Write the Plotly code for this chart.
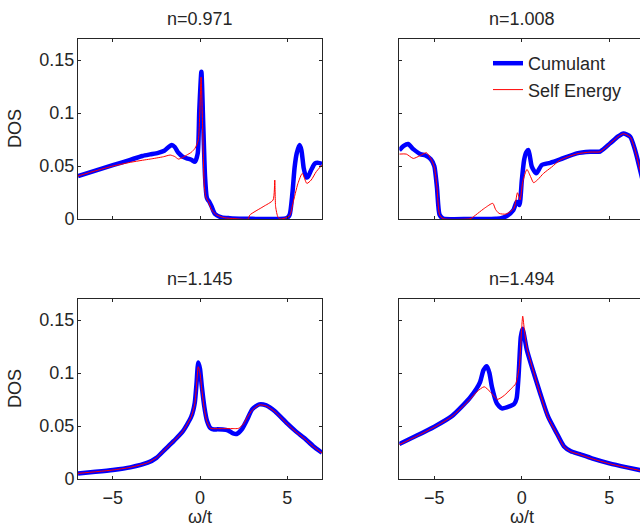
import plotly.graph_objects as go

# ---------------- data ----------------
titles = ["n=0.971", "n=1.008", "n=1.145", "n=1.494"]
series_names = ["Cumulant", "Self Energy"]
yticks = [0, 0.05, 0.1, 0.15]
ytick_text = ["0", "0.05", "0.1", "0.15"]
xticks = [-5, 0, 5]
xtick_text = ["\u22125", "0", "5"]

# panel 1 : n=0.971
w1_cum = [-7, -6, -5, -4, -3.3, -2.86, -2.4, -2.05, -1.8, -1.62, -1.45, -1.24, -1.0, -0.76, -0.5, -0.29, -0.13,
          -0.04, 0.08, 0.19, 0.29, 0.38, 0.45, 0.53, 0.67, 0.86, 1.24, 1.71, 2.5, 3.5, 4.5, 4.95, 5.14, 5.3,
          5.43, 5.55, 5.71, 5.82, 5.95, 6.1, 6.2, 6.4, 6.6, 6.8, 7]
d1_cum = [0.0406, 0.0457, 0.0508, 0.0559, 0.0595, 0.061, 0.0625, 0.0645, 0.068, 0.0698, 0.068, 0.0625, 0.059,
          0.0573, 0.056, 0.0541, 0.062, 0.103, 0.139, 0.087, 0.040, 0.0211, 0.018, 0.0164, 0.0116, 0.0047,
          0.0015, 0.0008, 0.0003, 0.0, 0.0, 0.0006, 0.0038, 0.024, 0.049, 0.062, 0.0698, 0.065, 0.048, 0.0392,
          0.040, 0.047, 0.0525, 0.053, 0.052]
w1_se = [-7, -6, -5, -4, -3.3, -2.86, -2.1, -1.71, -1.45, -1.24, -1.0, -0.76, -0.5, -0.29, -0.1, 0.06, 0.15,
         0.25, 0.35, 0.48, 0.67, 0.95, 1.4, 2.0, 2.76, 2.86, 3.62, 4.19, 4.29, 4.34, 4.48, 4.67, 5.14, 5.33,
         5.62, 5.87, 6.13, 6.38, 6.67, 7]
d1_se = [0.0406, 0.0455, 0.050, 0.0535, 0.0555, 0.0566, 0.0588, 0.0604, 0.059, 0.0566, 0.058, 0.0604, 0.063,
         0.0667, 0.0745, 0.134, 0.087, 0.0305, 0.020, 0.0164, 0.0085, 0.0038, 0.0012, 0.0003, 0.0, 0.0038,
         0.0116, 0.0179, 0.0368, 0.0116, 0.0016, 0.0, 0.003, 0.0148, 0.0336, 0.0431, 0.0336, 0.0368, 0.0447,
         0.0509]

# panel 2 : n=1.008
w2_cum = [-7, -6.75, -6.5, -6.2, -5.8, -5.5, -5.2, -5.0, -4.85, -4.7, -4.5, -3.0, -2.0, -1.5, -1.24, -0.86,
          -0.48, -0.29, -0.14, 0.0, 0.13, 0.25, 0.38, 0.57, 0.82, 1.14, 1.62, 2.19, 3.14, 3.9, 4.47, 5.04,
          5.5, 5.8, 6.19, 6.47, 6.71, 7]
d2_cum = [0.065, 0.069, 0.0708, 0.066, 0.0613, 0.060, 0.0565, 0.050, 0.030, 0.004, 0.0005, 0.0, 0.0, 0.0003,
          0.0006, 0.0028, 0.0085, 0.0164, 0.0132, 0.0368, 0.0557, 0.063, 0.0651, 0.0494, 0.0431, 0.051,
          0.0531, 0.0563, 0.062, 0.0635, 0.0637, 0.0714, 0.078, 0.0808, 0.0777, 0.065, 0.0494, 0.030]
w2_se = [-7, -6.6, -6.2, -5.8, -5.45, -5.2, -5.0, -4.85, -4.7, -4.5, -3.05, -2.9, -2.14, -1.66, -1.5, -1.3,
         -0.9, -0.45, -0.25, -0.1, 0.05, 0.29, 0.5, 0.67, 0.9, 1.24, 1.7, 2.19, 3.14, 3.9, 4.47, 5.04, 5.5,
         5.8, 6.19, 6.47, 6.71, 7]
d2_se = [0.0613, 0.0613, 0.0572, 0.060, 0.0626, 0.057, 0.049, 0.030, 0.004, 0.0003, 0.0, 0.0006, 0.0101,
         0.0148, 0.009, 0.0053, 0.0047, 0.0101, 0.0248, 0.018, 0.035, 0.0468, 0.040, 0.0343, 0.037, 0.0431,
         0.049, 0.0557, 0.0615, 0.0632, 0.0635, 0.0712, 0.0778, 0.0806, 0.0775, 0.0648, 0.0492, 0.030]

# panel 3 : n=1.145
w3_cum = [-7, -6, -5, -4, -3, -2.5, -2, -1.5, -1, -0.5, -0.3, -0.2, -0.1, 0.0, 0.1, 0.25, 0.4, 0.6, 0.8,
          1.0, 1.3, 1.6, 1.9, 2.1, 2.4, 2.7, 3.0, 3.4, 3.8, 4.3, 5.0, 5.5, 6.0, 6.5, 7]
d3_cum = [0.0053, 0.0068, 0.0085, 0.011, 0.0154, 0.020, 0.028, 0.036, 0.0447, 0.059, 0.072, 0.090, 0.110,
          0.104, 0.088, 0.068, 0.055, 0.048, 0.0468, 0.0469, 0.0468, 0.046, 0.043, 0.0425, 0.047, 0.056,
          0.066, 0.0705, 0.0695, 0.064, 0.0525, 0.045, 0.0384, 0.031, 0.0248]
w3_se = [-7, -6, -5, -4, -3, -2.5, -2, -1.5, -1, -0.5, -0.3, -0.2, -0.1, 0.0, 0.1, 0.25, 0.4, 0.6, 0.8,
         1.0, 1.3, 1.6, 1.9, 2.2, 2.5, 2.7, 3.0, 3.4, 3.8, 4.3, 5.0, 5.5, 6.0, 6.5, 7]
d3_se = [0.0053, 0.0068, 0.0085, 0.011, 0.0154, 0.020, 0.028, 0.036, 0.0447, 0.059, 0.071, 0.088, 0.106,
         0.100, 0.085, 0.066, 0.054, 0.048, 0.0475, 0.0476, 0.0476, 0.0476, 0.0476, 0.0478, 0.052, 0.058,
         0.065, 0.0700, 0.0690, 0.0635, 0.052, 0.0445, 0.038, 0.0307, 0.0245]

# panel 4 : n=1.494
w4_cum = [-7, -6, -5, -4, -3, -2.6, -2.38, -2.19, -2.0, -1.85, -1.71, -1.43, -1.14, -0.67, -0.44, -0.3,
          -0.19, -0.06, 0.04, 0.29, 0.57, 1.05, 1.5, 2.0, 2.4, 2.8, 3.3, 4.0, 5.0, 6.0, 7]
d4_cum = [0.033, 0.041, 0.0494, 0.0594, 0.0761, 0.085, 0.0918, 0.1028, 0.1066, 0.100, 0.0871, 0.0714,
          0.0667, 0.0689, 0.0708, 0.076, 0.0965, 0.134, 0.142, 0.1217, 0.106, 0.0808, 0.0588, 0.043, 0.031,
          0.0262, 0.0235, 0.0195, 0.0148, 0.011, 0.0075]
w4_se = [-7, -6, -5, -4, -3, -2.57, -2.15, -1.81, -1.39, -1.0, -0.6, -0.35, -0.15, 0.0, 0.05, 0.15, 0.3,
         0.57, 1.05, 1.5, 2.0, 2.4, 2.8, 3.3, 4.0, 5.0, 6.0, 7]
d4_se = [0.0325, 0.0405, 0.049, 0.059, 0.0745, 0.0824, 0.0871, 0.0824, 0.0752, 0.079, 0.0855, 0.090, 0.106,
         0.145, 0.1538, 0.140, 0.123, 0.107, 0.080, 0.058, 0.0425, 0.0306, 0.0258, 0.0232, 0.0192, 0.0145,
         0.0107, 0.0072]

panels = [
    (w1_cum, d1_cum, w1_se, d1_se),
    (w2_cum, d2_cum, w2_se, d2_se),
    (w3_cum, d3_cum, w3_se, d3_se),
    (w4_cum, d4_cum, w4_se, d4_se),
]

# ---------------- layout geometry (pixels) ----------------
W, H = 640, 528
FONT = "Liberation Sans, Arial, Helvetica, sans-serif"
TXT = "#262626"
FS = 18

col_px = [(78, 322), (399.3, 640)]
row_px = [(39, 219), (299, 479)]
xranges = [[-7, 7], [-7, 6.75]]

fig = go.Figure()

for i, (wc, dc, ws, ds) in enumerate(panels):
    k = i + 1
    xa = "x" if k == 1 else f"x{k}"
    ya = "y" if k == 1 else f"y{k}"
    fig.add_trace(go.Scatter(x=wc, y=dc, mode="lines", name=series_names[0],
                             line=dict(color="#0000ff", width=4.5, shape="spline", smoothing=0.6),
                             showlegend=(k == 1), legendrank=1, xaxis=xa, yaxis=ya))
    fig.add_trace(go.Scatter(x=ws, y=ds, mode="lines", name=series_names[1],
                             line=dict(color="#ff0000", width=1, shape="spline", smoothing=0.6),
                             showlegend=(k == 1), legendrank=2, xaxis=xa, yaxis=ya))

layout = dict(
    width=W, height=H,
    margin=dict(l=0, r=0, t=0, b=0),
    paper_bgcolor="white", plot_bgcolor="white",
    font=dict(family=FONT, size=FS, color=TXT),
    showlegend=True,
    legend=dict(x=488 / W, y=1 - 45 / H, xanchor="left", yanchor="top",
                bgcolor="rgba(0,0,0,0)", borderwidth=0,
                font=dict(family=FONT, size=FS, color=TXT)),
    annotations=[],
)

for i in range(4):
    k = i + 1
    r, c = divmod(i, 2)
    x0, x1 = col_px[c]
    y0, y1 = row_px[r]
    xkey = "xaxis" if k == 1 else f"xaxis{k}"
    ykey = "yaxis" if k == 1 else f"yaxis{k}"
    layout[xkey] = dict(
        domain=[x0 / W, x1 / W], range=xranges[c], anchor=("y" if k == 1 else f"y{k}"),
        tickvals=xticks, ticktext=xtick_text, showticklabels=(r == 1),
        ticks="inside", ticklen=3, tickwidth=1, tickcolor=TXT,
        showline=True, linecolor=TXT, linewidth=1, mirror="ticks",
        showgrid=False, zeroline=False, automargin=False, fixedrange=True,
        ticklabelstandoff=2,
        tickfont=dict(family=FONT, size=FS, color=TXT),
    )
    layout[ykey] = dict(
        domain=[1 - y1 / H, 1 - y0 / H], range=[0, 0.17], anchor=("x" if k == 1 else f"x{k}"),
        tickvals=yticks, ticktext=ytick_text, showticklabels=(c == 0),
        ticks="inside", ticklen=3, tickwidth=1, tickcolor=TXT,
        showline=True, linecolor=TXT, linewidth=1, mirror=("ticks" if c == 0 else False),
        showgrid=False, zeroline=False, automargin=False, fixedrange=True,
        ticklabelstandoff=-1,
        tickfont=dict(family=FONT, size=FS, color=TXT),
    )
    cx = (x0 + (x0 + 244.6)) / 2
    layout["annotations"].append(dict(
        text=titles[i], x=cx / W, y=1 - (y0 - 20) / H, xref="paper", yref="paper",
        xanchor="center", yanchor="middle", showarrow=False,
        font=dict(family=FONT, size=FS, color=TXT)))
    if c == 0:
        layout["annotations"].append(dict(
            text="DOS", x=15 / W, y=1 - ((y0 + y1) / 2) / H, xref="paper", yref="paper",
            xanchor="center", yanchor="middle", textangle=-90, showarrow=False,
            font=dict(family=FONT, size=FS, color=TXT)))
    if r == 1:
        layout["annotations"].append(dict(
            text="\u03c9/t", x=cx / W, y=1 - 517 / H, xref="paper", yref="paper",
            xanchor="center", yanchor="middle", showarrow=False,
            font=dict(family=FONT, size=FS, color=TXT)))

fig.update_layout(**layout)
fig.write_html("out.html")
